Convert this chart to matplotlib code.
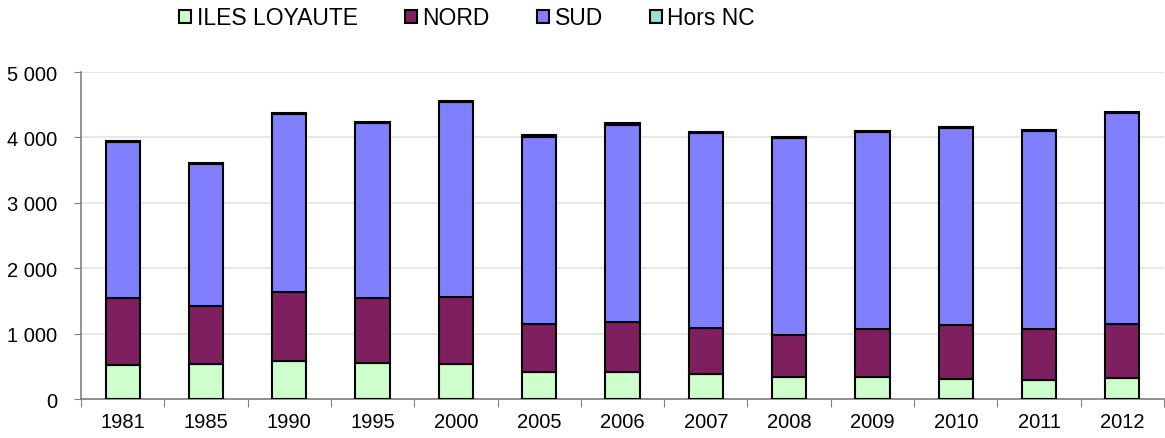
import matplotlib.pyplot as plt
import numpy as np

years = ['1981', '1985', '1990', '1995', '2000', '2005', '2006', '2007', '2008', '2009', '2010', '2011', '2012']
iles = [520, 530, 576, 555, 530, 418, 418, 382, 331, 331, 306, 296, 327]
nord = [1020, 897, 1055, 985, 1025, 734, 759, 704, 652, 744, 831, 774, 825]
sud = [2385, 2171, 2727, 2680, 2981, 2849, 3018, 2976, 3008, 3002, 3012, 3023, 3216]
hors = [18, 15, 18, 18, 18, 30, 18, 18, 12, 15, 15, 15, 15]

plt.rcParams['font.family'] = ['Liberation Sans', 'DejaVu Sans']

fig = plt.figure(figsize=(11.65, 4.39), dpi=100)
ax = fig.add_axes([0.0695, 0.0888, 0.9297, 0.7449])

x = np.arange(len(years))
w = 0.41
kw = dict(width=w, edgecolor='black', linewidth=1.5, zorder=3)
b = np.zeros(len(years))
ax.bar(x, iles, bottom=b, color='#CCFFCC', label='ILES LOYAUTE', **kw)
b += iles
ax.bar(x, nord, bottom=b, color='#7F1F5F', label='NORD', **kw)
b += nord
ax.bar(x, sud, bottom=b, color='#8080FF', label='SUD', **kw)
b += sud
ax.bar(x, hors, bottom=b, color='#99DDDD', label='Hors NC', **kw)

fs = 14.5
ax.set_ylim(0, 5000)
ax.set_xlim(-0.5, len(years) - 0.5)
yt = [0, 1000, 2000, 3000, 4000, 5000]
ax.set_yticks(yt)
ax.set_yticklabels(['{:,}'.format(v).replace(',', ' ') for v in yt], fontsize=fs)
ax.set_xticks(np.arange(len(years) + 1) - 0.5)
ax.set_xticklabels([])
ax.set_xticks(x, minor=True)
ax.set_xticklabels(years, minor=True, fontsize=fs)
ax.tick_params(axis='x', which='major', length=6, color='#808080', direction='out')
ax.tick_params(axis='x', which='minor', length=0, pad=9)
ax.tick_params(axis='y', length=5, color='#808080', pad=12)

ax.grid(axis='y', color='#e3e3e3', linewidth=1.2, zorder=0)
for s in ['top', 'right']:
    ax.spines[s].set_visible(False)
for s in ['left', 'bottom']:
    ax.spines[s].set_color('#808080')
    ax.spines[s].set_linewidth(1.2)

fig.legend(loc='center', bbox_to_anchor=(0.401, 0.957), ncol=4, frameon=False,
           fontsize=16.5, handlelength=0.52, handleheight=0.52,
           handletextpad=0.25, columnspacing=2.05)

plt.savefig('out.png', dpi=100)
